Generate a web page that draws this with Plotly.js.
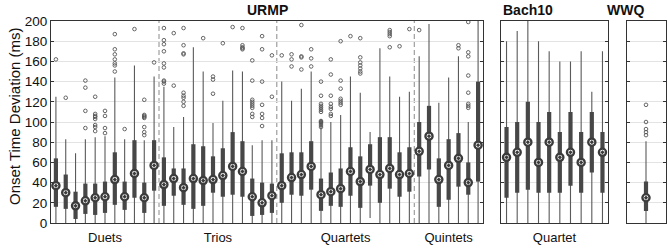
<!DOCTYPE html>
<html><head><meta charset="utf-8">
<script src="https://cdn.plot.ly/plotly-3.0.1.min.js"></script>
<style>html,body{margin:0;padding:0;background:#fff}#chart{width:667px;height:248px}</style>
</head><body><div id="chart"></div>
<script>
// ---------------- DATA ----------------
const urmpGroupNames = ['Duets', 'Trios', 'Quartets', 'Quintets'];
const urmpGroupSizes = [11, 12, 14, 7];

const urmpLo  = [0,0,0,0,0,0,0,0,0,0,0, 0,0,0,0,0,0,0,0,0,0,0,0, 0,0,0,0,0,0,0,0,0,5,0,0,0,0, 0,0,0,0,0,0,0];
const urmpQ1  = [16,14,4,9,8,10,18,13,25,10,32, 17,27,18,14,17,30,26,28,26,7,8,10, 20,28,27,33,12,17,16,27,15,37,20,34,26,31, 46,53,16,23,36,28,41];
const urmpMed = [37,30,17,22,25,26,43,26,49,25,57, 38,44,35,44,42,43,47,56,51,26,20,27, 37,45,48,56,28,31,34,51,41,53,48,54,48,49, 71,86,43,57,64,40,77];
const urmpQ3  = [64,48,31,39,39,41,70,41,82,40,82, 65,54,54,78,76,66,74,90,81,44,40,39, 69,70,70,81,44,50,54,75,66,78,85,85,70,75, 100,116,64,83,89,60,140];
const urmpHi  = [125,83,69,83,85,86,144,83,156,82,145, 135,95,105,174,150,99,121,151,150,77,82,82, 140,121,133,150,103,100,107,145,129,90,173,145,125,130, 165,197,119,144,165,100,210];
const urmpOut = [
  [162],[124],[],[141,134,111,94],[125,108,106,105,103,97,95,91],[111,106,94,89],
  [187,172,167,162,158,156,150],[93],[192],[122,107,106,105,104,95,90,87],[159],
  [193,181,177,170,158,154,141,140,138],[188,136],[193,176,168,167,129,126,124,120,116],[],[183],
  [145,142,128],[178],[194],[193,176,174,173,172],[161,141,122,120,118,116,114,108,105],
  [185,172,140,117,108,104,96],[166,125],
  [166],[167,162,155],[196,165,164,152],[172,163,155],[140,126,118,116,114,112,110,101,100,99,97,95],
  [162,147,126,118,115,113,108,106],[180,141,133,123,121,119,117],[185],[183,164,159,156,153,150,148],
  [],[],[191,189,187,185,174],[175],[192],
  [191],[],[],[],[176,173],[199,169,165,146,129,118,116,114],[]
];

const bachGroupName = 'Quartet';
const bachLo  = [0,0,0,0,0,0,0,0,0,0];
const bachQ1  = [25,30,33,30,30,30,37,30,50,30];
const bachMed = [65,70,80,60,80,65,70,60,80,70];
const bachQ3  = [95,100,120,100,110,90,110,90,110,90];
const bachHi  = [180,190,205,180,170,160,160,170,130,170];
const bachOut = [[],[],[],[],[],[],[],[],[],[]];

const wwqGroupName = 'Quintet';
const wwqLo  = [0];
const wwqQ1  = [12];
const wwqMed = [25];
const wwqQ3  = [41];
const wwqHi  = [81];
const wwqOut = [[117,100,93,90,87]];

const yTickVals = [0,20,40,60,80,100,120,140,160,180,200];

// ---------------- STYLE ----------------
const DARK = '#474747';
const WHISK = '#5a5a5a';
const FONT = 'Liberation Sans, Arial, Helvetica, sans-serif';

function boxTraces(lo, q1, med, q3, hi, out, xa, ya) {
  const wx = [], wy = [], bx = [], by = [], ox = [], oy = [], mx = [];
  for (let i = 0; i < med.length; i++) {
    const p = i + 1;
    wx.push(p, p, null); wy.push(lo[i], hi[i], null);
    bx.push(p, p, null); by.push(q1[i], q3[i], null);
    mx.push(p);
    out[i].forEach(v => { ox.push(p); oy.push(v); });
  }
  return [
    {type:'scatter', mode:'lines', x:wx, y:wy, xaxis:xa, yaxis:ya, line:{color:WHISK, width:1.1}, hoverinfo:'skip', showlegend:false},
    {type:'scatter', mode:'lines', x:bx, y:by, xaxis:xa, yaxis:ya, line:{color:DARK, width:4.2}, hoverinfo:'skip', showlegend:false},
    {type:'scatter', mode:'markers', x:ox, y:oy, xaxis:xa, yaxis:ya, marker:{symbol:'circle-open', size:3.6, color:'#555', line:{width:0.9, color:'#555'}}, hoverinfo:'skip', showlegend:false},
    {type:'scatter', mode:'markers', x:mx, y:med, xaxis:xa, yaxis:ya, marker:{symbol:'circle-dot', size:7.2, color:'#ffffff', line:{color:'#3c3c3c', width:2.3}}, hoverinfo:'skip', showlegend:false}
  ];
}

// group centres / separators for URMP
const urmpCenters = [], urmpSeps = [];
let start = 1;
urmpGroupSizes.forEach((n, k) => {
  urmpCenters.push(start + (n - 1) / 2);
  if (k < urmpGroupSizes.length - 1) urmpSeps.push(start + n - 0.5);
  start += n;
});
const urmpN = urmpMed.length;

const traces = [].concat(
  boxTraces(urmpLo, urmpQ1, urmpMed, urmpQ3, urmpHi, urmpOut, 'x', 'y'),
  boxTraces(bachLo, bachQ1, bachMed, bachQ3, bachHi, bachOut, 'x2', 'y2'),
  boxTraces(wwqLo, wwqQ1, wwqMed, wwqQ3, wwqHi, wwqOut, 'x3', 'y3')
);

const W = 667, ML = 51, MR = 0;
const PW = W - ML - MR;
const px = v => (v - ML) / PW;
const dURMP = [0, px(483)];
const dBACH = [px(501.2), px(607.8)];
const dWWQ  = [px(626.5), px(665.5)];

function xAxis(domain, range, vals, texts, anchor) {
  return {domain, range, anchor, tickvals: vals, ticktext: texts, ticks: '', showgrid: false, zeroline: false,
    showline: true, linecolor: '#333', linewidth: 1, mirror: true, ticklabelstandoff: 2,
    tickfont: {family: FONT, size: 13, color: '#111'}, fixedrange: true};
}
function yAxis(anchor, labels) {
  return {anchor, range: [0, 200], tickvals: yTickVals, showticklabels: labels, ticks: 'inside', ticklen: 3,
    tickcolor: '#333', tickwidth: 1, showgrid: true, gridcolor: '#e3e3e3', gridwidth: 1, zeroline: false,
    showline: true, linecolor: '#333', linewidth: 1, mirror: 'ticks', domain: [0, 1],
    tickfont: {family: FONT, size: 13.5, color: '#111'}, fixedrange: true};
}

const shapes = urmpSeps.map(s => ({type: 'line', xref: 'x', yref: 'y domain', x0: s, x1: s, y0: 0, y1: 1,
  line: {color: '#8a8a8a', width: 1, dash: '5px,3px'}, layer: 'below'}));

const titleFont = {family: FONT, size: 14, color: '#111', weight: 'bold'};
const annotations = [
  {text: '<b>URMP</b>', xref: 'paper', yref: 'paper', x: (dURMP[0] + dURMP[1]) / 2, y: 1, yanchor: 'bottom', yshift: 1, showarrow: false, font: titleFont},
  {text: '<b>Bach10</b>', xref: 'paper', yref: 'paper', x: (dBACH[0] + dBACH[1]) / 2, y: 1, yanchor: 'bottom', yshift: 1, showarrow: false, font: titleFont},
  {text: '<b>WWQ</b>', xref: 'paper', yref: 'paper', x: (dWWQ[0] + dWWQ[1]) / 2, y: 1, yanchor: 'bottom', yshift: 1, showarrow: false, font: titleFont},
  {text: 'Onset Time Deviation (ms)', xref: 'paper', yref: 'paper', x: px(14), y: (223 - 116) / 202, xanchor: 'center', yanchor: 'middle',
    textangle: -90, showarrow: false, font: {family: FONT, size: 15, color: '#111'}}
];

const layout = {
  width: 667, height: 248,
  margin: {l: ML, r: MR, t: 21, b: 25, pad: 0},
  paper_bgcolor: '#fff', plot_bgcolor: '#fff',
  showlegend: false,
  xaxis: xAxis(dURMP, [0.5, urmpN + 0.5], urmpCenters, urmpGroupNames, 'y'),
  xaxis2: xAxis(dBACH, [0.5, bachMed.length + 0.5], [(bachMed.length + 1) / 2], [bachGroupName], 'y2'),
  xaxis3: xAxis(dWWQ, [0.5, wwqMed.length + 0.5], [(wwqMed.length + 1) / 2], [wwqGroupName], 'y3'),
  yaxis: yAxis('x', true),
  yaxis2: yAxis('x2', false),
  yaxis3: yAxis('x3', false),
  shapes, annotations
};

Plotly.newPlot('chart', traces, layout, {staticPlot: true, displayModeBar: false});
</script>
</body></html>
